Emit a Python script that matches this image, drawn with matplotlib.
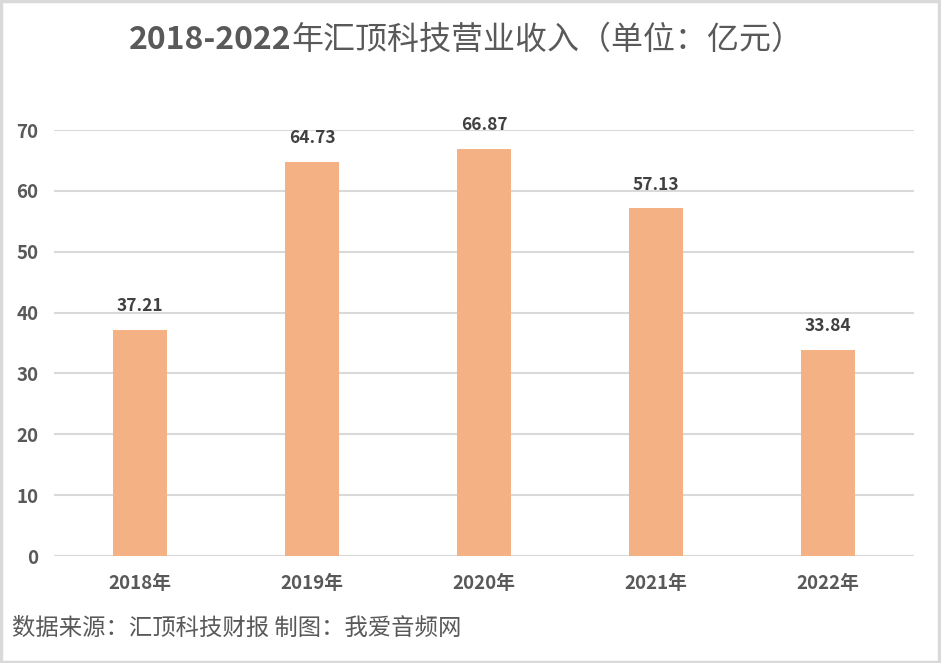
import numpy as np
import matplotlib
matplotlib.use("Agg")
import matplotlib.pyplot as plt
from matplotlib.patches import Rectangle

plt.rcParams['font.family'] = ['Noto Sans CJK SC', 'DejaVu Sans']

years = ['2018年', '2019年', '2020年', '2021年', '2022年']
revenue = [37.21, 64.73, 66.87, 57.13, 33.84]
yticks = [0, 10, 20, 30, 40, 50, 60, 70]

title_bold = '2018-2022'
title_rest = '年汇顶科技营业收入（单位：亿元）'
footer = '数据来源：汇顶科技财报 制图：我爱音频网'

bar_color = '#F4B183'
grid_color = '#D9D9D9'
text_gray = '#595959'
label_dark = '#404040'

W, H = 941, 663
fig = plt.figure(figsize=(W / 100, H / 100), dpi=100)
fig.patch.set_facecolor('white')

# plot area: x 54..914, y 130(70)..556(0)
ax = fig.add_axes([54 / W, (H - 556) / H, 860 / W, 426 / H])
x = np.arange(len(years))
ax.bar(x, revenue, width=0.314, color=bar_color, zorder=3)
ax.set_xlim(-0.5, len(years) - 0.5)
ax.set_ylim(0, 70)
ax.set_yticks(yticks)
ax.set_xticks(x)
ax.set_xticklabels(years)
for s in ax.spines.values():
    s.set_visible(False)
ax.grid(axis='y', color=grid_color, linewidth=1.5, zorder=0)
ax.tick_params(length=0)
ax.tick_params(axis='y', pad=11, labelsize=13.5, labelcolor=text_gray)
ax.tick_params(axis='x', pad=13, labelsize=13.5, labelcolor=text_gray)
for lab in ax.get_yticklabels() + ax.get_xticklabels():
    lab.set_fontweight('bold')
ax.axhline(0, color=grid_color, linewidth=1.5, zorder=1)

for xi, v in zip(x, revenue):
    ax.annotate(f'{v:.2f}', (xi, v), xytext=(0, 17), textcoords='offset points',
                ha='center', va='center', fontsize=12.5, fontweight='bold',
                color=label_dark, clip_on=False)

# title: bold numbers, regular Chinese, centred together
renderer = fig.canvas.get_renderer()
t1 = fig.text(0, 1 - 40 / H, title_bold, fontsize=23, fontweight='bold',
              color=text_gray, ha='left', va='center')
t2 = fig.text(0, 1 - 40 / H, title_rest, fontsize=23, color=text_gray,
              ha='left', va='center')
w1 = t1.get_window_extent(renderer).width
w2 = t2.get_window_extent(renderer).width
x0 = 466 - (w1 + w2) / 2
t1.set_x(x0 / W)
t2.set_x((x0 + w1) / W)

fig.text(12 / W, 1 - 628 / H, footer, fontsize=16.8, color=text_gray,
         ha='left', va='center')

fig.patches.append(Rectangle((0.001, 0.001), 0.997, 0.997, transform=fig.transFigure,
                             fill=False, edgecolor=grid_color, linewidth=2.5))

fig.savefig('out.png', dpi=100)
